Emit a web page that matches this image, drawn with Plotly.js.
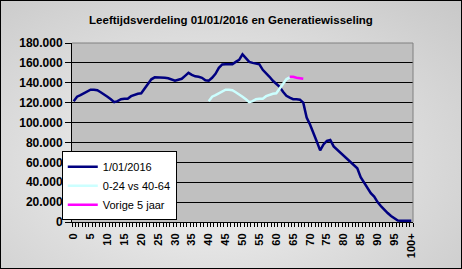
<!DOCTYPE html>
<html>
<head>
<meta charset="utf-8">
<script src="https://cdn.plot.ly/plotly-3.0.1.min.js"></script>
<style>
html,body{margin:0;padding:0;}
#wrap{width:460px;height:267px;border:1px solid #000;background:radial-gradient(ellipse at 45% 60%, #f6f6f6 0%, #dcdcdc 55%, #c8c8c8 100%);}
#chart{width:460px;height:267px;}
</style>
</head>
<body>
<div id="wrap"><div id="chart"></div></div>
<script>
// Ages 0..100 (100 = "100+")
const ages = Array.from({length: 101}, (_, i) => i);
const tickVals = [0,5,10,15,20,25,30,35,40,45,50,55,60,65,70,75,80,85,90,95,100];
const tickLabels = ['0','5','10','15','20','25','30','35','40','45','50','55','60','65','70','75','80','85','90','95','100+'];

// Population per age on 1/01/2016
const pop2016 = [
  121500,126000,127500,129500,131500,133000,133000,132500,130500,128500,
  126000,123500,120500,121500,123500,124000,124000,126500,128000,129000,
  129500,134000,139000,143500,145500,145500,145500,145000,144500,143000,
  142000,143000,144000,147000,150000,148000,146500,146000,145000,142500,
  142000,145000,149000,155000,158500,158600,158600,158600,161000,163000,
  168500,165000,161000,160000,159500,158600,153000,150000,146000,142000,
  139000,136000,131000,127000,125000,123500,123500,123000,120000,105000,
  98000,90000,81000,72000,78000,81500,82500,76000,73000,69500,
  67000,64000,61000,58000,54000,45000,40000,34000,29000,25500,
  20000,16000,12000,9000,6000,3500,1500,1200,1200,1200,1200
];

// 0-24 year olds placed against ages 40-64
const genAges = [40,41,42,43,44,45,46,47,48,49,50,51,52,53,54,55,56,57,58,59,60,61,62,63,64];
const genValues = [
  121500,126000,127500,129500,131500,133000,133000,132500,130500,128500,
  126000,123500,120500,121500,123500,124000,124000,126500,128000,129000,
  129500,134000,139000,143500,145500
];

// Previous 5 years
const prevAges = [64,65,66,67,68];
const prevValues = [146000,146000,145000,144500,144000];

const traces = [
  {x: ages, y: pop2016, name: '1/01/2016', type: 'scatter', mode: 'lines',
   line: {color: '#000080', width: 2.5}},
  {x: genAges, y: genValues, name: '0-24 vs 40-64', type: 'scatter', mode: 'lines',
   line: {color: '#ccffff', width: 2.5}},
  {x: prevAges, y: prevValues, name: 'Vorige 5 jaar', type: 'scatter', mode: 'lines',
   line: {color: '#ff00ff', width: 2.5}}
];

const W = 460, H = 267;
const layout = {
  width: W, height: H,
  paper_bgcolor: 'rgba(0,0,0,0)',
  plot_bgcolor: '#c0c0c0',
  margin: {l: 71, r: 48, t: 42, b: 46, pad: 0},
  font: {family: 'Arial, Liberation Sans, sans-serif', color: '#000', size: 12},
  title: {text: '<b>Leeftijdsverdeling 01/01/2016 en Generatiewisseling</b>',
          font: {size: 11.5, family: 'Arial, Liberation Sans, sans-serif', color: '#000'},
          x: 0.5, xanchor: 'center', y: 1 - 19/H, yanchor: 'middle', yref: 'container'},
  xaxis: {
    type: 'linear', range: [-0.5, 100.5], showgrid: false, zeroline: false,
    tickmode: 'array', tickvals: tickVals, ticktext: tickLabels,
    tickangle: -90, ticks: '', ticklabelstandoff: 6,
    tickfont: {size: 11, family: 'Arial, Liberation Sans, sans-serif', weight: 'bold'},
    showline: true, linecolor: '#000', linewidth: 1, mirror: false,
    minor: {tickmode: 'linear', tick0: -0.5, dtick: 1, ticks: 'outside', ticklen: 4, tickcolor: '#000', tickwidth: 1, showgrid: false},
    fixedrange: true
  },
  yaxis: {
    range: [0, 180000], dtick: 20000, tick0: 0,
    showgrid: true, gridcolor: '#000', gridwidth: 1, zeroline: false,
    ticks: 'outside', ticklen: 6, tickcolor: '#000',
    showline: true, linecolor: '#000', linewidth: 1,
    separatethousands: true, tickformat: ',d',
    tickfont: {size: 12, family: 'Arial, Liberation Sans, sans-serif', weight: 'bold'},
    fixedrange: true
  },
  separators: ',.',
  shapes: [
    {type: 'line', xref: 'paper', yref: 'paper', x0: 0, x1: 1, y0: 1, y1: 1, line: {color: '#808080', width: 1}},
    {type: 'line', xref: 'paper', yref: 'paper', x0: 1, x1: 1, y0: 0, y1: 1, line: {color: '#808080', width: 1}}
  ],
  showlegend: true,
  legend: {
    x: -0.03, y: 0.395, xanchor: 'left', yanchor: 'top',
    bgcolor: '#ffffff', bordercolor: '#000', borderwidth: 1,
    font: {size: 11, family: 'Arial, Liberation Sans, sans-serif', color: '#000'},
    itemwidth: 30, tracegroupgap: 0
  }
};

Plotly.newPlot('chart', traces, layout, {displayModeBar: false, staticPlot: true});
</script>
</body>
</html>
